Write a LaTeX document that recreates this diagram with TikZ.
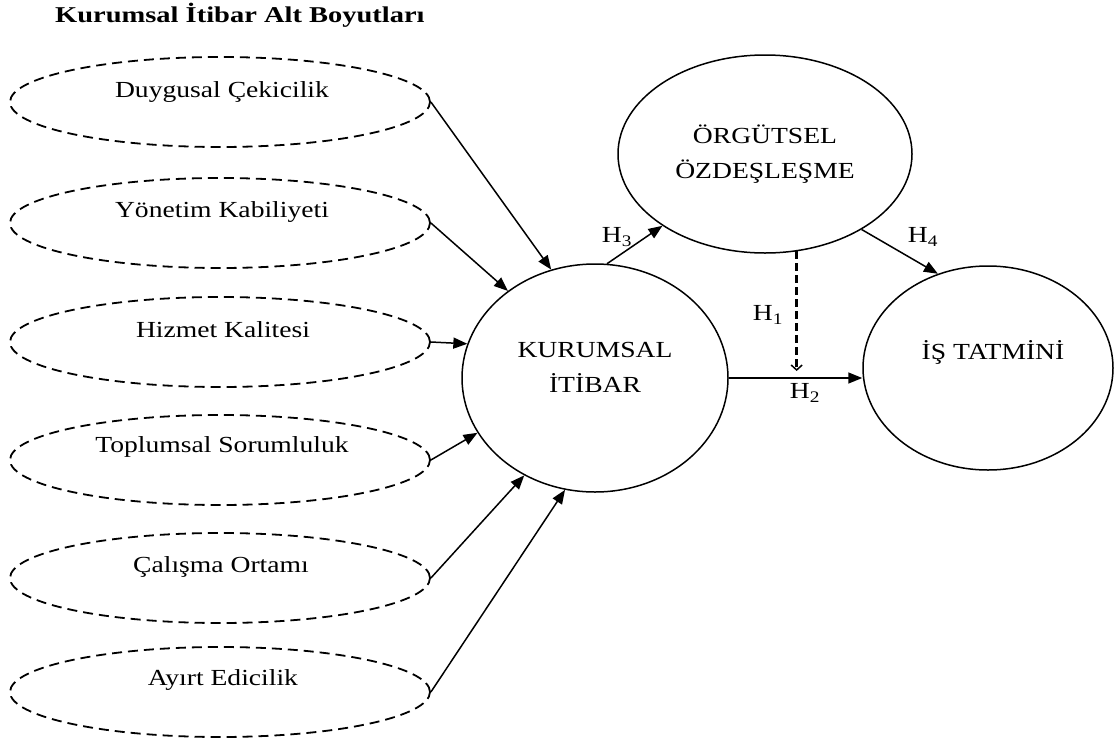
\documentclass[tikz,border=0pt]{standalone}
\usepackage{fontspec}
\setmainfont[FakeStretch=1.2]{Liberation Serif}
\newfontfamily\titlefont[FakeStretch=1.26]{Liberation Serif}
\usetikzlibrary{shapes.geometric,arrows.meta}
\begin{document}
\begin{tikzpicture}[x=1pt,y=-1pt,
  dim/.style={ellipse,draw,dash pattern=on 10pt off 6pt,line width=1.8pt,minimum width=420pt,minimum height=90pt,inner sep=0pt},
  latent/.style={ellipse,draw,line width=1.5pt,inner sep=0pt},
  txt/.style={inner sep=0pt,font=\fontsize{23pt}{35pt}\selectfont,align=center},
  arr/.style={line width=1.5pt,-{Triangle[length=14pt,width=11pt]}},
  darr/.style={line width=2.4pt,dash pattern=on 8pt off 4pt,-{Straight Barb[length=5pt,width=11pt,line width=1.5pt]}},
]
\useasboundingbox (0,0) rectangle (1114,742);
\node[anchor=base west,inner sep=0pt] (title) at (55,22) {\titlefont\bfseries\fontsize{22.6pt}{26pt}\selectfont Kurumsal İtibar Alt Boyutları};

\node[dim] (d1) at (220,102) {};
\node[dim] (d2) at (220,223) {};
\node[dim] (d3) at (220,342) {};
\node[dim] (d4) at (220,460) {};
\node[dim] (d5) at (220,578) {};
\node[dim] (d6) at (220,692) {};
\node[txt] (t1) at (222,92) {Duygusal Çekicilik};
\node[txt] (t2) at (222,212) {Yönetim Kabiliyeti};
\node[txt] (t3) at (223,330) {Hizmet Kalitesi};
\node[txt] (t4) at (222,447) {Toplumsal Sorumluluk};
\node[txt] (t5) at (221,567) {Çalışma Ortamı};
\node[txt] (t6) at (223,680) {Ayırt Edicilik};

\node[latent,minimum width=266pt,minimum height=228pt] (kur) at (595,378) {};
\node[txt] (kurt) at (595,367) {KURUMSAL\\İTİBAR};
\node[latent,txt,minimum width=294pt,minimum height=198pt] (org) at (765,154) {ÖRGÜTSEL\\ÖZDEŞLEŞME};
\node[latent,minimum width=250pt,minimum height=204pt] (is) at (988,368) {};
\node[txt] (ist) at (993,352) {İŞ TATMİNİ};

\draw[arr] (d1.east) -- (kur.112.6);
\draw[arr] (d2.east) -- (kur.135.7);
\draw[arr] (d3.east) -- (kur.165.2);
\draw[arr] (d4.east) -- (kur.205.4);
\draw[arr] (d5.east) -- (kur.234.2);
\draw[arr] (d6.east) -- (kur.255.6);

\draw[arr] (kur.84) -- (org.215.7);
\draw[arr] (org.322.2) -- (is.118.5);
\draw[arr] (kur.east) -- (kur.east -| is.west);
\coordinate (h1e) at (797,371);
\draw[darr] (org.-72) -- (org.-72 |- h1e);

\node[txt] (h3) at (617,237) {H\textsubscript{3}};
\node[txt] (h4) at (923,237) {H\textsubscript{4}};
\node[txt] (h1) at (768,315) {H\textsubscript{1}};
\node[txt] (h2) at (805,393) {H\textsubscript{2}};
\end{tikzpicture}
\end{document}
